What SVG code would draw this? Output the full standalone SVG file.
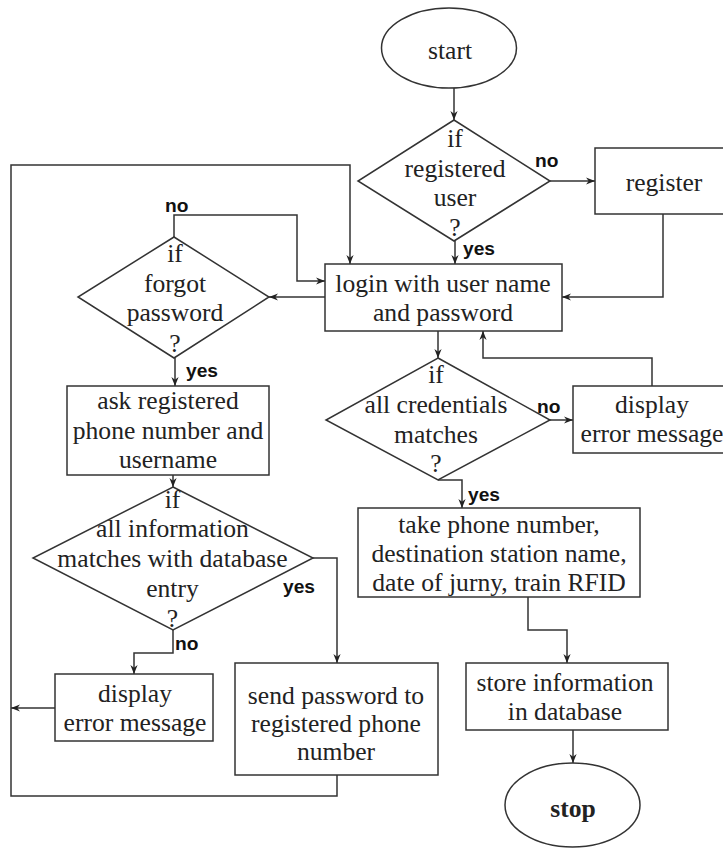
<svg xmlns="http://www.w3.org/2000/svg" width="723" height="848" viewBox="0 0 723 848">
  <defs>
    <marker id="arrow" viewBox="0 0 10 10" markerUnits="userSpaceOnUse" markerWidth="9" markerHeight="9" refX="10" refY="5" orient="auto">
      <path d="M0,1 L10,5 L0,9 L3,5 z" fill="#222"/>
    </marker>
    <style>
      .shape { fill: #fff; stroke: #333; stroke-width: 1.5; }
      .edge { fill: none; stroke: #333; stroke-width: 1.5; marker-end: url(#arrow); }
      .plain { fill: none; stroke: #333; stroke-width: 1.5; }
      .t { font-family: "Liberation Serif", "Times New Roman", serif; font-size: 25.6px; fill: #222; text-anchor: middle; }
      .b { font-weight: bold; }
      .lbl { font-family: "Liberation Sans", Arial, sans-serif; font-size: 19.2px; font-weight: bold; fill: #111; }
    </style>
  </defs>
  <rect width="723" height="848" fill="#fff"/>

  <!-- connectors -->
  <g id="connectors">
    <path class="edge" d="M454,88 L454,120"/>
    <path class="edge" d="M550,181 L595,181"/>
    <path class="edge" d="M455,241 L455,264"/>
    <path class="edge" d="M663,214 L663,297 L562,297"/>
    <path class="edge" d="M325,297 L269,297"/>
    <path class="edge" d="M174,237 L174,215 L297,215 L297,281 L325,281"/>
    <path class="edge" d="M175,358 L175,386"/>
    <path class="edge" d="M173,475 L173,487"/>
    <path class="edge" d="M313,558 L337,558 L337,663"/>
    <path class="edge" d="M173,630 L173,653 L134,653 L134,674"/>
    <path class="edge" d="M55,708 L11,708"/>
    <path class="edge" d="M337,775 L337,796 L11,796 L11,165 L350,165 L350,264"/>
    <path class="edge" d="M438,331 L438,358"/>
    <path class="edge" d="M550,420 L573,420"/>
    <path class="edge" d="M652,386 L652,358 L483,358 L483,331"/>
    <path class="edge" d="M438,480 L462,480 L462,508"/>
    <path class="edge" d="M528,597 L528,630 L567,630 L567,663"/>
    <path class="edge" d="M573,730 L573,763"/>

    <text class="lbl" x="535" y="167">no</text>
    <text class="lbl" x="463" y="255">yes</text>
    <text class="lbl" x="165" y="212">no</text>
    <text class="lbl" x="186" y="377">yes</text>
    <text class="lbl" x="537" y="413">no</text>
    <text class="lbl" x="468" y="501">yes</text>
    <text class="lbl" x="283" y="593">yes</text>
    <text class="lbl" x="175" y="650">no</text>
  </g>

  <g id="start">
    <ellipse class="shape" cx="449" cy="48" rx="67.5" ry="40"/>
    <text class="t" x="450" y="59">start</text>
  </g>

  <g id="registered-user">
    <polygon class="shape" points="454,120 550,181 454,241 358,181"/>
    <text class="t" x="455" y="147">if</text>
    <text class="t" x="455" y="176.5">registered</text>
    <text class="t" x="455" y="206">user</text>
    <text class="t" x="455" y="235.5">?</text>
  </g>

  <g id="register">
    <rect class="shape" x="595" y="148" width="137" height="66"/>
    <text class="t" x="664" y="191">register</text>
  </g>

  <g id="login">
    <rect class="shape" x="325" y="264" width="237" height="67"/>
    <text class="t" x="443" y="291.5">login with user name</text>
    <text class="t" x="443" y="321">and password</text>
  </g>

  <g id="forgot-password">
    <polygon class="shape" points="174,237 269,297 174,358 78,297"/>
    <text class="t" x="175" y="262">if</text>
    <text class="t" x="175" y="291.5">forgot</text>
    <text class="t" x="175" y="321">password</text>
    <text class="t" x="175" y="352">?</text>
  </g>

  <g id="credentials-match">
    <polygon class="shape" points="438,358 550,420 438,480 326,420"/>
    <text class="t" x="436" y="383">if</text>
    <text class="t" x="436" y="413">all credentials</text>
    <text class="t" x="436" y="442.5">matches</text>
    <text class="t" x="436" y="471.5">?</text>
  </g>

  <g id="login-error">
    <rect class="shape" x="573" y="386" width="159" height="67"/>
    <text class="t" x="652" y="413">display</text>
    <text class="t" x="652" y="442">error message</text>
  </g>

  <g id="ask-phone">
    <rect class="shape" x="67" y="386" width="202" height="89"/>
    <text class="t" x="168" y="408.5">ask registered</text>
    <text class="t" x="168" y="438.5">phone number and</text>
    <text class="t" x="168" y="468">username</text>
  </g>

  <g id="info-match">
    <polygon class="shape" points="173,487 313,558 173,630 33,558"/>
    <text class="t" x="172.5" y="507.5">if</text>
    <text class="t" x="172.5" y="537">all information</text>
    <text class="t" x="172.5" y="566.5">matches with database</text>
    <text class="t" x="172.5" y="596.5">entry</text>
    <text class="t" x="172.5" y="626.5">?</text>
  </g>

  <g id="reset-error">
    <rect class="shape" x="55" y="674" width="158" height="67"/>
    <text class="t" x="135" y="701.5">display</text>
    <text class="t" x="135" y="731">error message</text>
  </g>

  <g id="send-password">
    <rect class="shape" x="235" y="663" width="203" height="112"/>
    <text class="t" x="336" y="703.5">send password to</text>
    <text class="t" x="336" y="731.5">registered phone</text>
    <text class="t" x="336" y="759.5">number</text>
  </g>

  <g id="take-details">
    <rect class="shape" x="358" y="508" width="282" height="89"/>
    <text class="t" x="499" y="532.5">take phone number,</text>
    <text class="t" x="499" y="561.5">destination station name,</text>
    <text class="t" x="499" y="590.5">date of jurny, train RFID</text>
  </g>

  <g id="store">
    <rect class="shape" x="466" y="663" width="202" height="67"/>
    <text class="t" x="565" y="690.5">store information</text>
    <text class="t" x="565" y="720">in database</text>
  </g>

  <g id="stop">
    <ellipse class="shape" cx="572.5" cy="805" rx="67.5" ry="42"/>
    <text class="t b" x="573" y="817">stop</text>
  </g>
</svg>
